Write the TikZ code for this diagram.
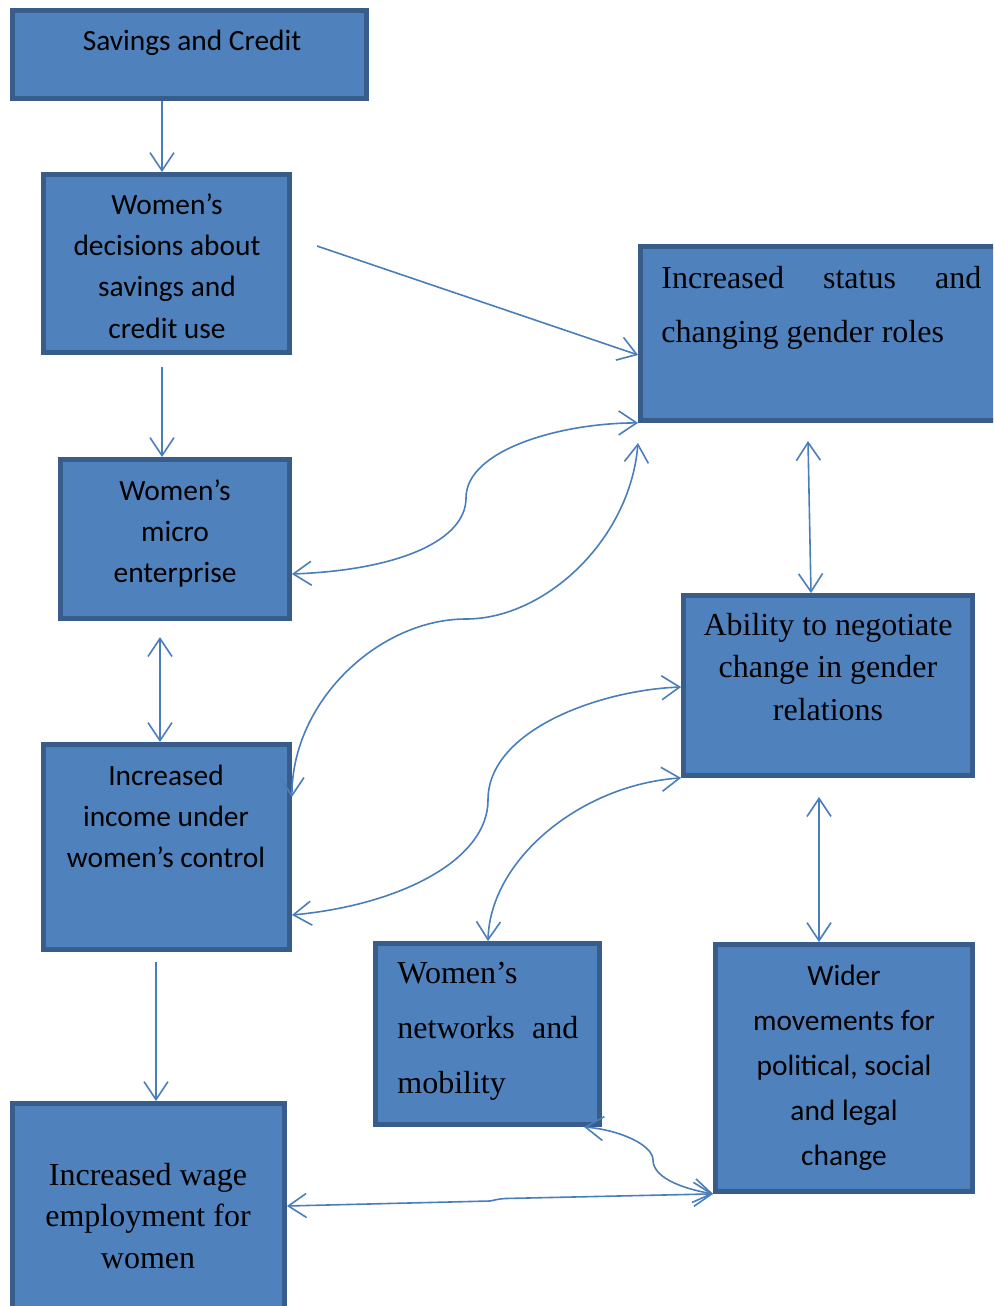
\documentclass[tikz,border=0pt]{standalone}
\usepackage{fontspec}
\setmainfont{Liberation Serif}
\newfontfamily\calibrifont{Carlito}
\usetikzlibrary{arrows.meta,fit}
\definecolor{boxfill}{HTML}{4F81BD}
\definecolor{boxline}{HTML}{385D8A}
\definecolor{linkblue}{HTML}{4A7EBB}
\newcommand\txtlines[2]{\begin{tabular}[t]{@{}#1@{}}#2\end{tabular}}
\tikzset{
  box/.style={draw=boxline, fill=boxfill, line width=2.4pt, inner sep=0pt, rectangle},
  calbase/.style={anchor=base, inner sep=0pt, text=black},
  ctext/.style={calbase, font=\calibrifont\fontsize{14.7pt}{20.7pt}\selectfont},
  cwide/.style={calbase, font=\calibrifont\fontsize{14.7pt}{22.5pt}\selectfont},
  ttext/.style={calbase, font=\fontsize{16pt}{#1}\selectfont},
  conn/.style={draw=linkblue, line width=0.8pt},
  tip/.style={conn, -{Straight Barb[length=9pt,width=12pt]}},
  both/.style={conn, {Straight Barb[length=9pt,width=12pt]}-{Straight Barb[length=9pt,width=12pt]}}
}
\begin{document}
\begin{tikzpicture}[x=0.5pt,y=-0.5pt]
\useasboundingbox (0,0) rectangle (993,1306);
\clip (0,0) rectangle (993,1306);
% boxes
\node[box, fit={(12.5,10.5) (366.5,98.5)}] (b1) {};
\node[box, fit={(43.5,174.5) (289.5,352.5)}] (b2) {};
\node[box, fit={(60.5,459.5) (289.5,618.5)}] (b3) {};
\node[box, fit={(43.5,744.5) (289.5,949.5)}] (b4) {};
\node[box, fit={(12.5,1103.5) (284.5,1320)}] (b5) {};
\node[box, fit={(640.5,246.5) (1010,420.5)}] (b6) {};
\node[box, fit={(683.5,595.5) (972.5,775.5)}] (b7) {};
\node[box, fit={(375.5,943.5) (599.5,1124.5)}] (b8) {};
\node[box, fit={(715.5,944.5) (972.5,1191.5)}] (b9) {};
% texts
\node[ctext] (t1) at (192,50) {Savings and Credit};
\node[ctext] (t2) at (167,214) {\txtlines{c}{Women’s\\decisions about\\savings and\\credit use}};
\node[ctext] (t3) at (175,500) {\txtlines{c}{Women’s\\micro\\enterprise}};
\node[ctext] (t4) at (166,785) {\txtlines{c}{Increased\\income under\\women’s control}};
\node[ttext=20.75pt] (t5) at (148,1185) {\txtlines{c}{Increased wage\\employment for\\women}};
\node[ttext=27pt, anchor=base west] (t6) at (661,288) {\txtlines{l}{\makebox[160pt][s]{Increased status and}\\changing gender roles}};
\node[ttext=21.25pt] (t7) at (828,635) {\txtlines{c}{Ability to negotiate\\change in gender\\relations}};
\node[ttext=27.5pt, anchor=base west] (t8) at (397,983) {\txtlines{l}{Women’s\\\makebox[90.5pt][s]{networks and}\\mobility}};
\node[cwide] (t9) at (844,985) {\txtlines{c}{Wider\\movements for\\political, social\\and legal\\change}};
% free ends
\coordinate (c2) at (317,246);
\coordinate (c3) at (162,367);
\coordinate (c4) at (160,637);
\coordinate (c6) at (638,443);
\coordinate (c7) at (808,441);
\coordinate (c10) at (819,797);
\coordinate (c11) at (156,962);
% connectors
\draw[tip] (b1.south -| 162,0) -- (b2.north -| 162,0);
\draw[tip] (c2) -- (b6.west |- 0,355);
\draw[tip] (c3) -- (b3.north -| 162,0);
\draw[both] (c4) -- (b4.north -| 160,0);
\draw[both] (b3.east |- 0,574) .. controls (400,570) and (466,540) .. (466,498)
   .. controls (466,450) and (560,423) .. (b6.south west);
\draw[both] (c6) .. controls (630,540) and (545,619) .. (466,619)
   .. controls (380,619) and (292,700) .. (b4.east |- 0,797);
\draw[both] (c7) -- (b7.north -| 811,0);
\draw[both] (b4.east |- 0,915) .. controls (400,905) and (488,860) .. (488,800)
   .. controls (488,730) and (600,690) .. (b7.west |- 0,687);
\draw[both] (b7.south west) .. controls (580,785) and (490,860) .. (b8.north -| 488,0);
\draw[both] (c10) -- (b9.north -| 819,0);
\draw[tip] (c11) -- (b5.north -| 156,0);
\draw[both] (b5.east |- 0,1206) -- (490,1201) .. controls (495,1200) and (498,1199) .. (505,1198.5) -- (b9.south west);
\draw[both] (b8.south -| 584,0) .. controls (620,1130) and (653,1145) .. (653,1160)
   .. controls (653,1180) and (690,1190) .. (b9.south west);
\end{tikzpicture}
\end{document}
